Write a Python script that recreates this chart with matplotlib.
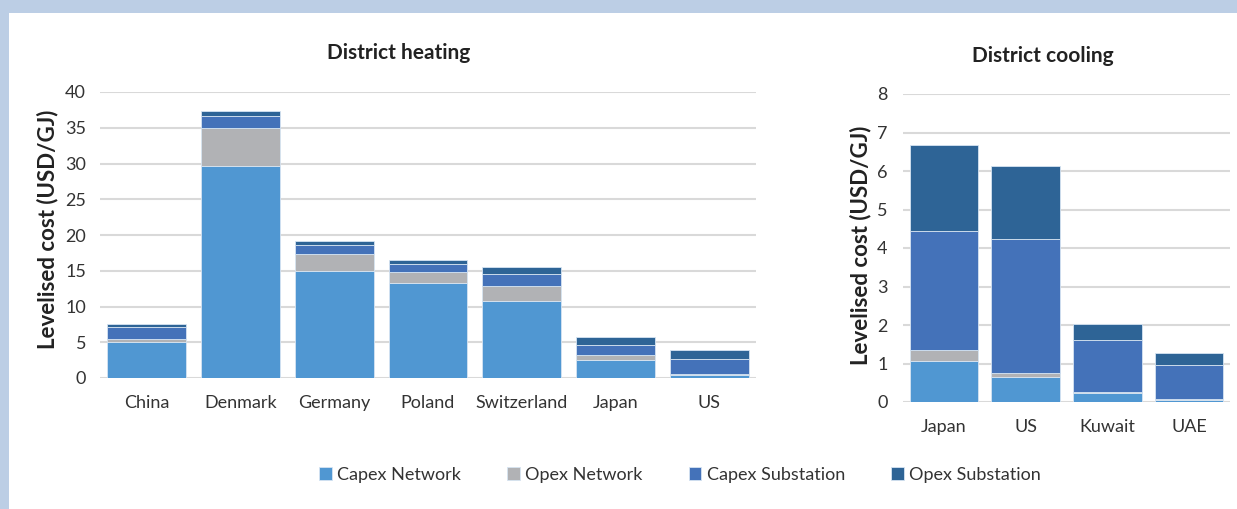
import matplotlib.pyplot as plt
from matplotlib.patches import Rectangle
import numpy as np

plt.rcParams['font.family'] = ['Lato', 'DejaVu Sans']

# District heating (USD/GJ)
heat_countries = ['China', 'Denmark', 'Germany', 'Poland', 'Switzerland', 'Japan', 'US']
heat_capex_network = [5.1, 29.7, 15.0, 13.3, 10.8, 2.45, 0.42]
heat_opex_network = [0.35, 5.3, 2.3, 1.5, 2.0, 0.75, 0.15]
heat_capex_substation = [1.65, 1.6, 1.3, 1.2, 1.7, 1.45, 2.1]
heat_opex_substation = [0.45, 0.8, 0.6, 0.5, 1.0, 1.1, 1.2]

# District cooling (USD/GJ)
cool_countries = ['Japan', 'US', 'Kuwait', 'UAE']
cool_capex_network = [1.07, 0.65, 0.23, 0.06]
cool_opex_network = [0.28, 0.10, 0.02, 0.01]
cool_capex_substation = [3.09, 3.48, 1.36, 0.90]
cool_opex_substation = [2.24, 1.89, 0.41, 0.30]

series_names = ['Capex Network', 'Opex Network', 'Capex Substation', 'Opex Substation']
colors = ['#5097d2', '#b1b2b5', '#4472b9', '#2e6496']

W, H = 1237, 509
fig = plt.figure(figsize=(W / 100, H / 100), dpi=100)
fig.patch.set_facecolor('#bccee5')
fig.patches.append(Rectangle((9 / W, 0), 1, 1 - 13 / H, transform=fig.transFigure,
                             facecolor='white', edgecolor='none', zorder=-1))

ax1 = fig.add_axes([100 / W, 1 - 378 / H, (756 - 100) / W, (378 - 92) / H])
ax2 = fig.add_axes([903 / W, 1 - 402 / H, (1230 - 903) / W, (402 - 94) / H])


def stacked(ax, cats, data, width, ypad):
    x = np.arange(len(cats))
    bottom = np.zeros(len(cats))
    handles = []
    for vals, col, name in zip(data, colors, series_names):
        b = ax.bar(x, vals, width, bottom=bottom, color=col, edgecolor='#d6e4f2',
                   linewidth=0.6, label=name, zorder=3)
        handles.append(b)
        bottom += np.array(vals)
    ax.set_xticks(x)
    ax.set_xticklabels(cats)
    ax.set_xlim(-0.5, len(cats) - 0.5)
    for s in ax.spines.values():
        s.set_visible(False)
    ax.tick_params(axis='both', length=0, labelsize=13, colors='#333333')
    ax.tick_params(axis='x', pad=12)
    ax.tick_params(axis='y', pad=ypad)
    ax.grid(axis='y', color='#d9d9d9', linewidth=1.5, zorder=0)
    ax.set_axisbelow(True)
    ax.set_ylabel('Levelised cost (USD/GJ)', fontsize=16, fontweight='bold', color='#222222')
    return handles


handles = stacked(ax1, heat_countries,
                  [heat_capex_network, heat_opex_network, heat_capex_substation, heat_opex_substation],
                  0.84, 10)
ax1.set_ylim(0, 40)
ax1.set_yticks(range(0, 41, 5))
ax1.yaxis.set_label_coords(-0.064, 0.52)

stacked(ax2, cool_countries,
        [cool_capex_network, cool_opex_network, cool_capex_substation, cool_opex_substation],
        0.84, 11)
ax2.set_ylim(0, 8)
ax2.set_yticks(range(0, 9))
ax2.yaxis.set_label_coords(-0.098, 0.51)

fig.text(399 / W, 1 - 53 / H, 'District heating', fontsize=15, fontweight='bold',
         color='#222222', ha='center', va='center')
fig.text(1043 / W, 1 - 56 / H, 'District cooling', fontsize=15, fontweight='bold',
         color='#222222', ha='center', va='center')

fig.legend(handles, series_names, loc='center', bbox_to_anchor=(680 / W, 1 - 475 / H), ncol=4,
           frameon=False, fontsize=13, handlelength=0.7, handleheight=0.7, handletextpad=0.3,
           columnspacing=2.55, labelcolor='#333333')

fig.savefig('out.png', dpi=100, facecolor=fig.get_facecolor())
